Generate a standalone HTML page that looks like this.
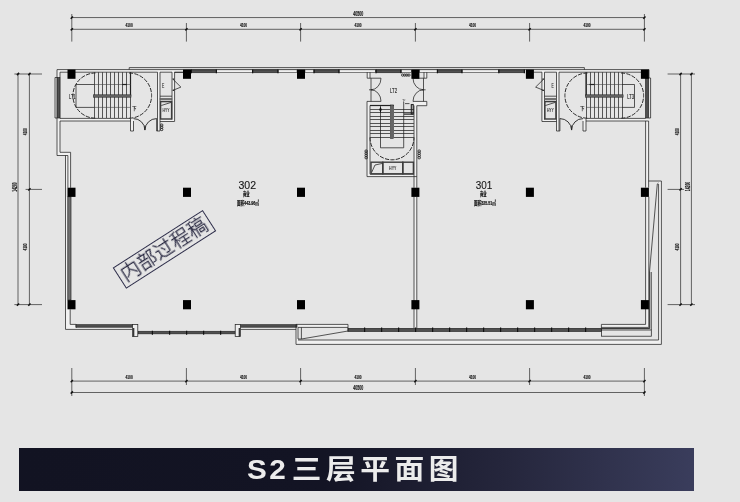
<!DOCTYPE html>
<html lang="zh-CN"><head><meta charset="utf-8"><title>S2三层平面图</title>
<style>
html,body{margin:0;padding:0}
body{width:740px;height:502px;background:#e5e5e5;overflow:hidden;position:relative;font-family:"Liberation Sans","Noto Sans CJK SC",sans-serif}
svg{position:absolute;left:0;top:0;will-change:transform}
.wm,.bar{will-change:transform}
svg line,svg polyline,svg polygon,svg path,svg rect{fill:none;stroke:#222;stroke-width:.75}
.dim line{stroke:#2a2a2a;stroke-width:.7}
.tick line{stroke:#111;stroke-width:1.5}
svg .band rect{fill:#505050;stroke:#262626;stroke-width:.7}
svg .wfill rect{fill:#f1f1f1;stroke:none}
svg rect.wf{fill:#eee}
svg rect.win{fill:#efefef;stroke:#333;stroke-width:.6}
svg .mul, svg line.mul{stroke:#111;stroke-width:1.2}
svg line.trh{stroke:#444;stroke-width:.6}
svg path.arc{stroke-width:.9}
svg path.arr{stroke:#111;stroke-width:1;fill:#111}
svg line.thick,svg polyline.thick{stroke:#222;stroke-width:1.2}
svg line.tr{stroke:#454545;stroke-width:.9;shape-rendering:crispEdges}
svg rect.rail{fill:#666;stroke:#2a2a2a;stroke-width:.6}
svg path.dash{stroke-dasharray:4.2 1.3;stroke-width:1;stroke:#2a2a2a}
svg rect.sm{stroke:#222;stroke-width:.9;rx:.8px}
svg rect.hyy{fill:none;stroke:#3c3c3c;stroke-width:1.4}
svg .col rect{fill:#000;stroke:none}
svg text{fill:#222;stroke:none;text-anchor:middle;font-family:"Liberation Sans","Noto Sans CJK SC",sans-serif}
svg text.dt{font-size:6px;font-weight:bold;fill:#1a1a1a;stroke:#1a1a1a;stroke-width:.2}
svg text.dt2{font-size:7px;font-weight:bold;fill:#1a1a1a;stroke:#1a1a1a;stroke-width:.2}
svg text.st{font-size:7px;fill:#1c1c1c;stroke:#1c1c1c;stroke-width:.15}
svg text.ste{font-size:6.6px;fill:#1c1c1c;stroke:#1c1c1c;stroke-width:.12}
svg text.st2{font-size:5.2px;font-weight:bold;fill:#333}
svg text.cn{font-size:4.6px;font-weight:bold;fill:#1a1a1a}
svg text.cn2{font-size:3.6px;fill:#222}
svg text.rm{font-size:11.2px;fill:#151515;stroke:#151515;stroke-width:.12}
svg text.rs{font-size:5.6px;font-weight:bold;fill:#111;stroke:#111;stroke-width:.2}
svg text.rs2{font-size:6px;font-weight:bold;fill:#111;stroke:#111;stroke-width:.2}
.wm{position:absolute;left:111px;top:236.5px;width:104.5px;height:23px;border:1px solid #2b2b48;color:#26263f;
 font-family:"Liberation Sans","Noto Sans CJK SC",sans-serif;font-weight:300;-webkit-text-stroke:.3px #26263f;font-size:19.5px;line-height:22.6px;text-align:center;
 transform:rotate(-32.7deg);white-space:nowrap;letter-spacing:.3px}
.bar{position:absolute;left:19px;top:448px;width:675px;height:43px;
 background:linear-gradient(90deg,#121322 0%,#131424 45%,#25263c 72%,#3a3d5c 100%)}
.bar span{position:absolute;left:228.4px;top:0;height:43px;line-height:44.4px;color:#ececec;font-weight:bold;font-size:27.5px;letter-spacing:4.2px;white-space:nowrap;transform:scaleX(1.08);transform-origin:0 0;
 font-family:"Liberation Sans","Noto Sans CJK SC",sans-serif}
</style></head><body>
<svg width="740" height="502" viewBox="0 0 740 502">
<g class="wfill">
<rect x="57" y="69.6" width="3" height="85.9"/>
<rect x="57" y="152.3" width="13.6" height="3.2"/>
<rect x="65.5" y="152.3" width="5.1" height="35.5"/>
<rect x="57" y="69.6" width="126.2" height="2.6"/>
<rect x="534" y="69.6" width="115" height="2.6"/>
<rect x="60" y="118.4" width="70.5" height="2.6"/>
<rect x="586.0" y="118.4" width="62.6" height="2.6"/>
<rect x="157.5" y="72.2" width="2.5" height="58.8"/>
<rect x="172" y="72.2" width="2.5" height="49.3"/>
<rect x="160" y="119.5" width="14.5" height="2.0"/>
<rect x="130.5" y="118.4" width="3.0" height="12.6"/>
<rect x="156.6" y="118.4" width="3.4" height="12.6"/>
<rect x="556.5" y="72.2" width="2.5" height="58.8"/>
<rect x="542.0" y="72.2" width="2.5" height="49.3"/>
<rect x="542.0" y="119.5" width="14.5" height="2.0"/>
<rect x="583.0" y="118.4" width="3.0" height="12.6"/>
<rect x="556.5" y="118.4" width="3.4" height="12.6"/>
<rect x="645.6" y="121" width="3.0" height="66.6"/>
<rect x="645.6" y="196.8" width="3.2" height="130.6"/>
<rect x="414" y="176.6" width="2.8" height="151.4"/>
<rect x="367" y="101.4" width="3" height="75.2"/>
<rect x="367.2" y="72.2" width="2.8" height="6.0"/>
<rect x="424" y="72.2" width="2.8" height="6.0"/>
<rect x="414" y="105.7" width="2.8" height="82.1"/>
<rect x="414" y="101.4" width="12.8" height="4.3"/>
<rect x="367" y="174.2" width="49.8" height="2.4"/>
<rect x="65.5" y="309.4" width="4.7" height="20.0"/>
<rect x="65.5" y="324.4" width="10.5" height="5.0"/>
<rect x="65.5" y="327.4" width="67.5" height="2.0"/>
<rect x="65.5" y="196.8" width="2.3" height="112.6"/>
<rect x="240.6" y="327.4" width="55.4" height="2.0"/>
<rect x="601.4" y="324.4" width="47.4" height="3.0"/>
<rect x="298" y="340" width="363.4" height="4.4"/>
<rect x="658.6" y="181" width="2.8" height="163.4"/>
<rect x="296" y="324.4" width="2" height="20.0"/>
<rect x="296" y="324.4" width="52" height="3.0"/>
</g>
<g class="dim">
<line x1="71.8" y1="17.55" x2="644.4" y2="17.55"/>
<line x1="71.8" y1="29.3" x2="644.4" y2="29.3"/>
<line x1="71.8" y1="14" x2="71.8" y2="41.6"/>
<line x1="186.4" y1="23" x2="186.4" y2="41.6"/>
<line x1="300.6" y1="23" x2="300.6" y2="41.6"/>
<line x1="415.4" y1="23" x2="415.4" y2="41.6"/>
<line x1="529.6" y1="23" x2="529.6" y2="41.6"/>
<line x1="644.4" y1="14" x2="644.4" y2="41.6"/>
<line x1="71.8" y1="381.1" x2="644.4" y2="381.1"/>
<line x1="71.8" y1="392.5" x2="644.4" y2="392.5"/>
<line x1="71.8" y1="368" x2="71.8" y2="396"/>
<line x1="186.4" y1="368" x2="186.4" y2="385"/>
<line x1="300.6" y1="368" x2="300.6" y2="385"/>
<line x1="415.4" y1="368" x2="415.4" y2="385"/>
<line x1="529.6" y1="368" x2="529.6" y2="385"/>
<line x1="644.4" y1="368" x2="644.4" y2="396"/>
<line x1="18" y1="74" x2="18" y2="304.6"/>
<line x1="29.4" y1="74" x2="29.4" y2="304.6"/>
<line x1="14.4" y1="74" x2="42" y2="74"/>
<line x1="25.6" y1="189.4" x2="42" y2="189.4"/>
<line x1="14.4" y1="304.6" x2="42" y2="304.6"/>
<line x1="680.6" y1="74" x2="680.6" y2="304.6"/>
<line x1="691.4" y1="74" x2="691.4" y2="304.6"/>
<line x1="667.6" y1="74" x2="695" y2="74"/>
<line x1="667.6" y1="189.4" x2="684" y2="189.4"/>
<line x1="667.6" y1="304.6" x2="695" y2="304.6"/>
</g>
<g class="tick">
<line x1="70.7" y1="30.4" x2="72.9" y2="28.2"/>
<line x1="70.7" y1="382.2" x2="72.9" y2="380.0"/>
<line x1="185.3" y1="30.4" x2="187.5" y2="28.2"/>
<line x1="185.3" y1="382.2" x2="187.5" y2="380.0"/>
<line x1="299.5" y1="30.4" x2="301.7" y2="28.2"/>
<line x1="299.5" y1="382.2" x2="301.7" y2="380.0"/>
<line x1="414.3" y1="30.4" x2="416.5" y2="28.2"/>
<line x1="414.3" y1="382.2" x2="416.5" y2="380.0"/>
<line x1="528.5" y1="30.4" x2="530.7" y2="28.2"/>
<line x1="528.5" y1="382.2" x2="530.7" y2="380.0"/>
<line x1="643.3" y1="30.4" x2="645.5" y2="28.2"/>
<line x1="643.3" y1="382.2" x2="645.5" y2="380.0"/>
<line x1="70.7" y1="18.7" x2="72.9" y2="16.5"/>
<line x1="70.7" y1="393.6" x2="72.9" y2="391.4"/>
<line x1="643.3" y1="18.7" x2="645.5" y2="16.5"/>
<line x1="643.3" y1="393.6" x2="645.5" y2="391.4"/>
<line x1="16.9" y1="75.1" x2="19.1" y2="72.9"/>
<line x1="28.3" y1="75.1" x2="30.5" y2="72.9"/>
<line x1="679.5" y1="75.1" x2="681.7" y2="72.9"/>
<line x1="690.3" y1="75.1" x2="692.5" y2="72.9"/>
<line x1="16.9" y1="305.7" x2="19.1" y2="303.5"/>
<line x1="28.3" y1="305.7" x2="30.5" y2="303.5"/>
<line x1="679.5" y1="305.7" x2="681.7" y2="303.5"/>
<line x1="690.3" y1="305.7" x2="692.5" y2="303.5"/>
<line x1="28.3" y1="190.5" x2="30.5" y2="188.3"/>
<line x1="679.5" y1="190.5" x2="681.7" y2="188.3"/>
</g>
<text x="129.1" y="27.1" class="dt" textLength="7.2" lengthAdjust="spacingAndGlyphs">4100</text>
<text x="129.1" y="379.0" class="dt" textLength="7.2" lengthAdjust="spacingAndGlyphs">4100</text>
<text x="243.5" y="27.1" class="dt" textLength="7.2" lengthAdjust="spacingAndGlyphs">4100</text>
<text x="243.5" y="379.0" class="dt" textLength="7.2" lengthAdjust="spacingAndGlyphs">4100</text>
<text x="358.0" y="27.1" class="dt" textLength="7.2" lengthAdjust="spacingAndGlyphs">4100</text>
<text x="358.0" y="379.0" class="dt" textLength="7.2" lengthAdjust="spacingAndGlyphs">4100</text>
<text x="472.5" y="27.1" class="dt" textLength="7.2" lengthAdjust="spacingAndGlyphs">4100</text>
<text x="472.5" y="379.0" class="dt" textLength="7.2" lengthAdjust="spacingAndGlyphs">4100</text>
<text x="587.0" y="27.1" class="dt" textLength="7.2" lengthAdjust="spacingAndGlyphs">4100</text>
<text x="587.0" y="379.0" class="dt" textLength="7.2" lengthAdjust="spacingAndGlyphs">4100</text>
<text x="358.2" y="16" class="dt2" textLength="10" lengthAdjust="spacingAndGlyphs">40500</text>
<text x="358.2" y="390.4" class="dt2" textLength="10" lengthAdjust="spacingAndGlyphs">40500</text>
<text x="0" y="0" class="dt" transform="translate(27.4,131.7) rotate(-90)" textLength="7" lengthAdjust="spacingAndGlyphs">4100</text>
<text x="0" y="0" class="dt" transform="translate(678.5,131.7) rotate(-90)" textLength="7" lengthAdjust="spacingAndGlyphs">4100</text>
<text x="0" y="0" class="dt" transform="translate(27.4,247) rotate(-90)" textLength="7" lengthAdjust="spacingAndGlyphs">4100</text>
<text x="0" y="0" class="dt" transform="translate(678.5,247) rotate(-90)" textLength="7" lengthAdjust="spacingAndGlyphs">4100</text>
<text x="0" y="0" class="dt2" transform="translate(16.5,187) rotate(-90)" textLength="9.4" lengthAdjust="spacingAndGlyphs">14200</text>
<text x="0" y="0" class="dt2" transform="translate(689.9,186.5) rotate(-90)" textLength="9.4" lengthAdjust="spacingAndGlyphs">14200</text>
<g class="w">
<polyline points="129.2,69.6 129.2,67.6 584.4,67.6 584.4,69.6"/>
<line x1="57" y1="69.6" x2="649" y2="69.6"/>
<line x1="60" y1="72.2" x2="157.5" y2="72.2"/>
<line x1="160" y1="72.2" x2="172" y2="72.2"/>
<line x1="174.5" y1="72.2" x2="183.2" y2="72.2"/>
<line x1="559.0" y1="72.2" x2="641" y2="72.2"/>
<line x1="556.5" y1="72.2" x2="544.5" y2="72.2"/>
<line x1="542.0" y1="72.2" x2="533.3" y2="72.2"/>
<polyline points="57,69.6 57,155.5 67.9,155.5 67.9,187.8"/>
<polyline points="60,72.2 60,118.4"/>
<polyline points="60,121 60,152.3 70.6,152.3 70.6,187.8"/>
<line x1="60" y1="118.4" x2="130.5" y2="118.4"/>
<line x1="60" y1="121" x2="130.5" y2="121"/>
<polyline points="65.5,155.5 65.5,329.4 133,329.4"/>
<polyline points="70.2,309.4 70.2,324.4 76,324.4"/>
<line x1="76.3" y1="324.4" x2="76.3" y2="327.6" class="mul"/>
</g>
<g class="band">
<rect x="67.8" y="196.8" width="3.2" height="103.2" style="fill:#707070"/>
<rect x="76" y="324.7" width="56.4" height="2.5"/>
<rect x="240.4" y="324.7" width="56.6" height="2.5"/>
<rect x="138" y="331.3" width="97.4" height="2.5"/>
<rect x="348" y="328.4" width="253.4" height="3"/>
<rect x="57.3" y="77.5" width="2.5" height="40.5"/>
<rect x="645.6" y="78" width="3" height="40"/>
</g>
<g class="w">
<polyline points="57,77.5 55,77.5 55,118 57,118"/>
<polyline points="648.6,78 650.6,78 650.6,118 648.6,118"/>
<rect x="132.4" y="324.4" width="5.4" height="12.2" class="wf"/>
<rect x="235.2" y="324.4" width="5.4" height="12.2" class="wf"/>
<line x1="133.7" y1="328" x2="133.7" y2="336.4" class="thick"/>
<line x1="239.3" y1="328" x2="239.3" y2="336.4" class="thick"/>
<line x1="240.6" y1="329.4" x2="296" y2="329.4"/>
<line x1="152.4" y1="330.8" x2="152.4" y2="334.8" class="mul"/>
<line x1="169.6" y1="330.8" x2="169.6" y2="334.8" class="mul"/>
<line x1="186.6" y1="330.8" x2="186.6" y2="334.8" class="mul"/>
<line x1="203.6" y1="330.8" x2="203.6" y2="334.8" class="mul"/>
<line x1="220.6" y1="330.8" x2="220.6" y2="334.8" class="mul"/>
<polyline points="296,324.4 296,344.4 661.4,344.4 661.4,181 648.6,181"/>
<polyline points="298,327.4 298,339"/>
<line x1="296" y1="324.4" x2="348" y2="324.4"/>
<line x1="298" y1="327.4" x2="348" y2="327.4"/>
<line x1="348" y1="324.4" x2="348" y2="331.6"/>
<polyline points="301.4,327.4 301.4,339 348,331"/>
<line x1="298" y1="339" x2="301.4" y2="339"/>
<polyline points="298,340 658.6,340 658.6,184"/>
<line x1="364.6" y1="327.6" x2="364.6" y2="332" class="mul"/>
<line x1="381.6" y1="327.6" x2="381.6" y2="332" class="mul"/>
<line x1="398.6" y1="327.6" x2="398.6" y2="332" class="mul"/>
<line x1="415.6" y1="327.6" x2="415.6" y2="332" class="mul"/>
<line x1="432.6" y1="327.6" x2="432.6" y2="332" class="mul"/>
<line x1="449.6" y1="327.6" x2="449.6" y2="332" class="mul"/>
<line x1="466.6" y1="327.6" x2="466.6" y2="332" class="mul"/>
<line x1="483.6" y1="327.6" x2="483.6" y2="332" class="mul"/>
<line x1="500.6" y1="327.6" x2="500.6" y2="332" class="mul"/>
<line x1="517.6" y1="327.6" x2="517.6" y2="332" class="mul"/>
<line x1="534.6" y1="327.6" x2="534.6" y2="332" class="mul"/>
<line x1="551.6" y1="327.6" x2="551.6" y2="332" class="mul"/>
<line x1="568.6" y1="327.6" x2="568.6" y2="332" class="mul"/>
<line x1="585.6" y1="327.6" x2="585.6" y2="332" class="mul"/>
<line x1="601.4" y1="324.4" x2="645.6" y2="324.4"/>
<line x1="601.4" y1="327.4" x2="648.8" y2="327.4"/>
<rect x="601.4" y="330" width="49.9" height="6.2"/>
<line x1="601.4" y1="324.4" x2="601.4" y2="330"/>
<polyline points="649.7,272 649.7,328.6 601.4,328.6" style="stroke-width:1;stroke:#2a2a2a"/>
<line x1="651.3" y1="272" x2="651.3" y2="330"/>
<line x1="645.6" y1="121" x2="645.6" y2="187.6"/>
<line x1="648.6" y1="121" x2="648.6" y2="187.6"/>
<line x1="645.6" y1="196.8" x2="645.6" y2="324.4"/>
<line x1="648.8" y1="196.8" x2="648.8" y2="327.4"/>
<line x1="649" y1="69.6" x2="649" y2="78"/>
<polyline points="658.4,183 657.3,184 649.5,272"/>
<line x1="586.0" y1="118.4" x2="645.6" y2="118.4"/>
<line x1="586.0" y1="121" x2="648.6" y2="121"/>
</g>
<g class="band">
<rect x="191.4" y="69.9" width="25.0" height="2.8"/>
<rect x="252.6" y="69.9" width="25.4" height="2.8"/>
<rect x="314" y="69.9" width="25" height="2.8"/>
<rect x="376" y="69.9" width="25" height="2.8"/>
<rect x="437.4" y="69.9" width="24.6" height="2.8"/>
<rect x="498.8" y="69.9" width="25.6" height="2.8"/>
</g>
<g class="w">
<rect x="216.4" y="69.8" width="36.2" height="2.8" class="win"/>
<rect x="278" y="69.8" width="19" height="2.8" class="win"/>
<rect x="305" y="69.8" width="9" height="2.8" class="win"/>
<rect x="339" y="69.8" width="36.6" height="2.8" class="win"/>
<rect x="401" y="69.8" width="10.6" height="2.8" class="win"/>
<rect x="419.4" y="69.8" width="18.0" height="2.8" class="win"/>
<rect x="462" y="69.8" width="36.8" height="2.8" class="win"/>
<line x1="191.4" y1="69.4" x2="191.4" y2="73.2" class="mul"/>
<line x1="216.4" y1="69.4" x2="216.4" y2="73.2" class="mul"/>
<line x1="252.6" y1="69.4" x2="252.6" y2="73.2" class="mul"/>
<line x1="278" y1="69.4" x2="278" y2="73.2" class="mul"/>
<line x1="314" y1="69.4" x2="314" y2="73.2" class="mul"/>
<line x1="339" y1="69.4" x2="339" y2="73.2" class="mul"/>
<line x1="376" y1="69.4" x2="376" y2="73.2" class="mul"/>
<line x1="401" y1="69.4" x2="401" y2="73.2" class="mul"/>
<line x1="437.4" y1="69.4" x2="437.4" y2="73.2" class="mul"/>
<line x1="462" y1="69.4" x2="462" y2="73.2" class="mul"/>
<line x1="498.8" y1="69.4" x2="498.8" y2="73.2" class="mul"/>
<line x1="524.4" y1="69.4" x2="524.4" y2="73.2" class="mul"/>
<line x1="174.5" y1="72.4" x2="183.2" y2="72.4"/>
</g>
<g class="w">
<line x1="157.5" y1="72.2" x2="157.5" y2="131"/>
<line x1="160" y1="72.2" x2="160" y2="131"/>
<line x1="156.6" y1="131" x2="160" y2="131"/>
<line x1="156.6" y1="118.4" x2="156.6" y2="131"/>
<line x1="172" y1="72.2" x2="172" y2="119.5"/>
<line x1="174.6" y1="72.2" x2="174.6" y2="121.5"/>
<line x1="172.6" y1="79.1" x2="174.2" y2="79.1" class="thick"/>
<line x1="172.6" y1="90.3" x2="174.2" y2="90.3" class="thick"/>
<line x1="160" y1="121.5" x2="174.5" y2="121.5"/>
<polyline points="172.8,79.1 180.9,87.1 173,90.3"/>
<line x1="160" y1="96.2" x2="172" y2="96.2"/>
</g>
<rect x="160" y="98.2" width="12" height="1.7" style="fill:#707070;stroke:#555;stroke-width:.4"/>
<rect x="160.6" y="101.6" width="11.0" height="17.4" class="hyy"/>
<g class="w">
<polyline points="161.3,105.5 171.1,102.4"/>
<line x1="130.5" y1="118.4" x2="130.5" y2="131"/>
<line x1="133.5" y1="121" x2="133.5" y2="131"/>
<line x1="130.5" y1="131" x2="133.5" y2="131"/>
<path d="M133.5,118.6 A11.4,11.4 0 0 1 144.9,130" class="arc"/>
<path d="M156.6,118.6 A11.7,11.7 0 0 0 144.9,130" class="arc"/>
<line x1="144.9" y1="125.5" x2="144.9" y2="130.2"/>
<rect x="160.5" y="124" width="2.3" height="2.2" class="sm"/>
<rect x="160.5" y="126.2" width="2.3" height="2.2" class="sm"/>
<rect x="160.5" y="128.4" width="2.3" height="2.2" class="sm"/>
</g>
<text x="163.2" y="87.9" class="ste" textLength="2.3" lengthAdjust="spacingAndGlyphs">E</text>
<text x="166.1" y="112" class="st2" textLength="7" lengthAdjust="spacingAndGlyphs">HYY</text>
<g class="w">
<line x1="559.0" y1="72.2" x2="559.0" y2="131"/>
<line x1="556.5" y1="72.2" x2="556.5" y2="131"/>
<line x1="559.9" y1="131" x2="556.5" y2="131"/>
<line x1="559.9" y1="118.4" x2="559.9" y2="131"/>
<line x1="544.5" y1="72.2" x2="544.5" y2="119.5"/>
<line x1="541.9" y1="72.2" x2="541.9" y2="121.5"/>
<line x1="543.9" y1="79.1" x2="542.3" y2="79.1" class="thick"/>
<line x1="543.9" y1="90.3" x2="542.3" y2="90.3" class="thick"/>
<line x1="556.5" y1="121.5" x2="542.0" y2="121.5"/>
<polyline points="543.7,79.1 535.6,87.1 543.5,90.3"/>
<line x1="556.5" y1="96.2" x2="544.5" y2="96.2"/>
</g>
<rect x="544.5" y="98.2" width="12.0" height="1.7" style="fill:#707070;stroke:#555;stroke-width:.4"/>
<rect x="544.9" y="101.6" width="11.0" height="17.4" class="hyy"/>
<g class="w">
<polyline points="545.4,105.5 555.2,102.4"/>
<line x1="586.0" y1="118.4" x2="586.0" y2="131"/>
<line x1="583.0" y1="121" x2="583.0" y2="131"/>
<line x1="586.0" y1="131" x2="583.0" y2="131"/>
<path d="M583.0,118.6 A11.4,11.4 0 0 0 571.6,130" class="arc"/>
<path d="M559.9,118.6 A11.7,11.7 0 0 1 571.6,130" class="arc"/>
<line x1="571.6" y1="125.5" x2="571.6" y2="130.2"/>
</g>
<text x="552.7" y="87.9" class="ste" textLength="2.3" lengthAdjust="spacingAndGlyphs">E</text>
<text x="550.4" y="112" class="st2" textLength="7" lengthAdjust="spacingAndGlyphs">HYY</text>
<g class="w">
<line x1="94.5" y1="72.2" x2="94.5" y2="118.4" class="tr"/>
<line x1="98.5" y1="72.2" x2="98.5" y2="118.4" class="tr"/>
<line x1="102.5" y1="72.2" x2="102.5" y2="118.4" class="tr"/>
<line x1="106.5" y1="72.2" x2="106.5" y2="118.4" class="tr"/>
<line x1="110.5" y1="72.2" x2="110.5" y2="118.4" class="tr"/>
<line x1="114.5" y1="72.2" x2="114.5" y2="118.4" class="tr"/>
<line x1="118.5" y1="72.2" x2="118.5" y2="118.4" class="tr"/>
<line x1="122.5" y1="72.2" x2="122.5" y2="118.4" class="tr"/>
<line x1="126.5" y1="72.2" x2="126.5" y2="118.4" class="tr"/>
<line x1="130.5" y1="72.2" x2="130.5" y2="118.4" class="tr"/>
<line x1="130.5" y1="72.2" x2="130.5" y2="96" class="thick"/>
<polyline points="94.5,84.5 76,84.5 76,107.4 94.5,107.4"/>
<line x1="94.5" y1="84.5" x2="130.5" y2="84.5" class="trh"/>
<line x1="94.5" y1="107.4" x2="130.5" y2="107.4" class="trh"/>
<line x1="122" y1="84.5" x2="127" y2="84.5" class="thick"/>
</g>
<rect x="93.4" y="94.8" width="37.6" height="2.4" class="rail"/>
<path d="M95.5,73 A22.6,22.6 0 0 0 95.5,118.2 M129,73 A22.6,22.6 0 0 1 129,118.2" class="dash"/>
<text x="134.3" y="109.6" class="cn">下</text>
<g class="w">
<line x1="622.5" y1="72.2" x2="622.5" y2="118.4" class="tr"/>
<line x1="618.5" y1="72.2" x2="618.5" y2="118.4" class="tr"/>
<line x1="614.5" y1="72.2" x2="614.5" y2="118.4" class="tr"/>
<line x1="610.5" y1="72.2" x2="610.5" y2="118.4" class="tr"/>
<line x1="606.5" y1="72.2" x2="606.5" y2="118.4" class="tr"/>
<line x1="602.5" y1="72.2" x2="602.5" y2="118.4" class="tr"/>
<line x1="598.5" y1="72.2" x2="598.5" y2="118.4" class="tr"/>
<line x1="594.5" y1="72.2" x2="594.5" y2="118.4" class="tr"/>
<line x1="590.5" y1="72.2" x2="590.5" y2="118.4" class="tr"/>
<line x1="586.5" y1="72.2" x2="586.5" y2="118.4" class="tr"/>
<line x1="586.0" y1="72.2" x2="586.0" y2="96" class="thick"/>
<polyline points="622.0,84.5 634.5,84.5 634.5,107.4 622.0,107.4"/>
<line x1="622.0" y1="84.5" x2="586.0" y2="84.5" class="trh"/>
<line x1="622.0" y1="107.4" x2="586.0" y2="107.4" class="trh"/>
<line x1="594.5" y1="84.5" x2="589.5" y2="84.5" class="thick"/>
</g>
<rect x="585.5" y="94.8" width="37.6" height="2.4" class="rail"/>
<path d="M587.5,73 A22.6,22.6 0 0 0 587.5,118.2 M621.0,73 A22.6,22.6 0 0 1 621.0,118.2" class="dash"/>
<text x="582.2" y="109.6" class="cn">下</text>
<text x="72.3" y="98.8" class="st" textLength="6.6" lengthAdjust="spacingAndGlyphs">LT1</text>
<text x="630.6" y="98.8" class="st" textLength="6.8" lengthAdjust="spacingAndGlyphs">LT3</text>
<g class="w">
<polyline points="367.2,72.2 367.2,78.2 381,78.2"/>
<line x1="370" y1="72.2" x2="370" y2="78.2"/>
<line x1="371" y1="78.2" x2="371" y2="101.4"/>
<polyline points="381,101.4 367,101.4 367,176.6 416.8,176.6"/>
<polyline points="370,105.5 370,174.2 414,174.2"/>
<path d="M381,78.2 A10,11.6 0 0 1 371,89.8 A10,11.6 0 0 1 381,101.4"/>
<line x1="369" y1="89.8" x2="372.6" y2="89.8"/>
<polyline points="426.8,72.2 426.8,78.2 413,78.2"/>
<line x1="424" y1="72.2" x2="424" y2="78.2"/>
<line x1="423.5" y1="78.2" x2="423.5" y2="101.4"/>
<path d="M413,78.2 A10.5,11.6 0 0 0 423.5,89.8 A10.5,11.6 0 0 0 413,101.4"/>
<line x1="422" y1="89.8" x2="425.6" y2="89.8"/>
<polyline points="413,101.4 426.8,101.4 426.8,105.7 416.8,105.7 416.8,187.8"/>
<line x1="414" y1="105.5" x2="414" y2="187.8"/>
<line x1="370" y1="105.5" x2="390.4" y2="105.5" class="tr"/>
<line x1="370" y1="109.02" x2="390.4" y2="109.02" class="tr"/>
<line x1="393.8" y1="109.02" x2="414" y2="109.02" class="tr"/>
<line x1="370" y1="112.54" x2="390.4" y2="112.54" class="tr"/>
<line x1="393.8" y1="112.54" x2="414" y2="112.54" class="tr"/>
<line x1="370" y1="116.06" x2="390.4" y2="116.06" class="tr"/>
<line x1="393.8" y1="116.06" x2="414" y2="116.06" class="tr"/>
<line x1="370" y1="119.58" x2="390.4" y2="119.58" class="tr"/>
<line x1="393.8" y1="119.58" x2="414" y2="119.58" class="tr"/>
<line x1="370" y1="123.1" x2="390.4" y2="123.1" class="tr"/>
<line x1="393.8" y1="123.1" x2="414" y2="123.1" class="tr"/>
<line x1="370" y1="126.62" x2="390.4" y2="126.62" class="tr"/>
<line x1="393.8" y1="126.62" x2="414" y2="126.62" class="tr"/>
<line x1="370" y1="130.14" x2="390.4" y2="130.14" class="tr"/>
<line x1="393.8" y1="130.14" x2="414" y2="130.14" class="tr"/>
<line x1="370" y1="133.66" x2="390.4" y2="133.66" class="tr"/>
<line x1="393.8" y1="133.66" x2="414" y2="133.66" class="tr"/>
<line x1="370" y1="137.18" x2="390.4" y2="137.18" class="tr"/>
<line x1="393.8" y1="137.18" x2="414" y2="137.18" class="tr"/>
<line x1="370" y1="105.5" x2="393.8" y2="105.5" class="thick"/>
<polyline points="380.5,105.5 380.5,147.8 403.7,147.8 403.7,101.8"/>
<line x1="414" y1="196.6" x2="414" y2="328"/>
<line x1="416.8" y1="196.6" x2="416.8" y2="328"/>
</g>
<rect x="390.6" y="105" width="2.7" height="33.4" class="rail"/>
<path d="M370,137.4 A22,22.4 0 0 0 414,137.4" class="dash"/>
<rect x="371" y="162.2" width="11.8" height="11.6" class="hyy"/>
<rect x="382.8" y="162.2" width="20" height="11.6" class="hyy"/>
<rect x="402.8" y="162.2" width="10.6" height="11.6" class="hyy"/>
<g class="w">
<polyline points="371.6,172.5 375,165 382.4,163.4"/>
<rect x="365" y="150" width="2.4" height="2.2" class="sm"/>
<rect x="418" y="150" width="2.4" height="2.2" class="sm"/>
<rect x="365" y="152.2" width="2.4" height="2.2" class="sm"/>
<rect x="418" y="152.2" width="2.4" height="2.2" class="sm"/>
<rect x="365" y="154.4" width="2.4" height="2.2" class="sm"/>
<rect x="418" y="154.4" width="2.4" height="2.2" class="sm"/>
<rect x="365" y="156.6" width="2.4" height="2.2" class="sm"/>
<rect x="418" y="156.6" width="2.4" height="2.2" class="sm"/>
<rect x="401.6" y="74" width="2.1" height="2.2" class="sm"/>
<rect x="403.7" y="74" width="2.1" height="2.2" class="sm"/>
<rect x="405.8" y="74" width="2.1" height="2.2" class="sm"/>
<rect x="407.9" y="74" width="2.1" height="2.2" class="sm"/>
<line x1="404" y1="114.1" x2="413.6" y2="114.1" class="thick"/>
<line x1="405" y1="103.6" x2="409.5" y2="103.6"/>
<rect x="411.3" y="104.6" width="1.9" height="9.4" style="stroke-width:1.1"/>
<path d="M380.5,112.4 L380.5,108.4 M379.7,110.2 L380.5,107.6 L381.3,110.2 Z" class="arr"/>
</g>
<text x="393.5" y="92.9" class="st" textLength="7" lengthAdjust="spacingAndGlyphs">LT2</text>
<text x="392.8" y="170.2" class="st2" textLength="7.4" lengthAdjust="spacingAndGlyphs">HYY</text>
<text x="403.9" y="101.6" class="cn2">下</text>
<g class="col">
<rect x="67.5" y="69.6" width="8.0" height="9.2"/>
<rect x="183.0" y="69.6" width="8.0" height="9.2"/>
<rect x="297.0" y="69.6" width="8.0" height="9.2"/>
<rect x="411.4" y="69.6" width="8.0" height="9.2"/>
<rect x="525.9" y="69.6" width="8.0" height="9.2"/>
<rect x="640.9" y="69.6" width="8.0" height="9.2"/>
<rect x="67.5" y="187.7" width="8.0" height="9.2"/>
<rect x="183.0" y="187.7" width="8.0" height="9.2"/>
<rect x="297.0" y="187.7" width="8.0" height="9.2"/>
<rect x="411.4" y="187.7" width="8.0" height="9.2"/>
<rect x="525.9" y="187.7" width="8.0" height="9.2"/>
<rect x="640.9" y="187.7" width="8.0" height="9.2"/>
<rect x="67.5" y="300.1" width="8.0" height="9.2"/>
<rect x="183.0" y="300.1" width="8.0" height="9.2"/>
<rect x="297.0" y="300.1" width="8.0" height="9.2"/>
<rect x="411.4" y="300.1" width="8.0" height="9.2"/>
<rect x="525.9" y="300.1" width="8.0" height="9.2"/>
<rect x="640.9" y="300.1" width="8.0" height="9.2"/>
</g>
<text x="247.3" y="189.1" class="rm" textLength="17.6" lengthAdjust="spacingAndGlyphs">302</text>
<text x="484" y="189.1" class="rm" textLength="16.6" lengthAdjust="spacingAndGlyphs">301</text>
<text x="246.3" y="196.2" class="rs" textLength="6.5" lengthAdjust="spacingAndGlyphs">商业</text>
<text x="483.2" y="196.2" class="rs" textLength="6.5" lengthAdjust="spacingAndGlyphs">商业</text>
<text x="248" y="204.6" class="rs2" textLength="22" lengthAdjust="spacingAndGlyphs">面积443.96㎡</text>
<text x="485" y="204.6" class="rs2" textLength="22" lengthAdjust="spacingAndGlyphs">面积325.51㎡</text>
</svg>
<div class="wm">内部过程稿</div>
<div class="bar"><span><b style="letter-spacing:2.2px">S</b><b style="letter-spacing:5.7px">2</b>三层平面图</span></div>
</body></html>
